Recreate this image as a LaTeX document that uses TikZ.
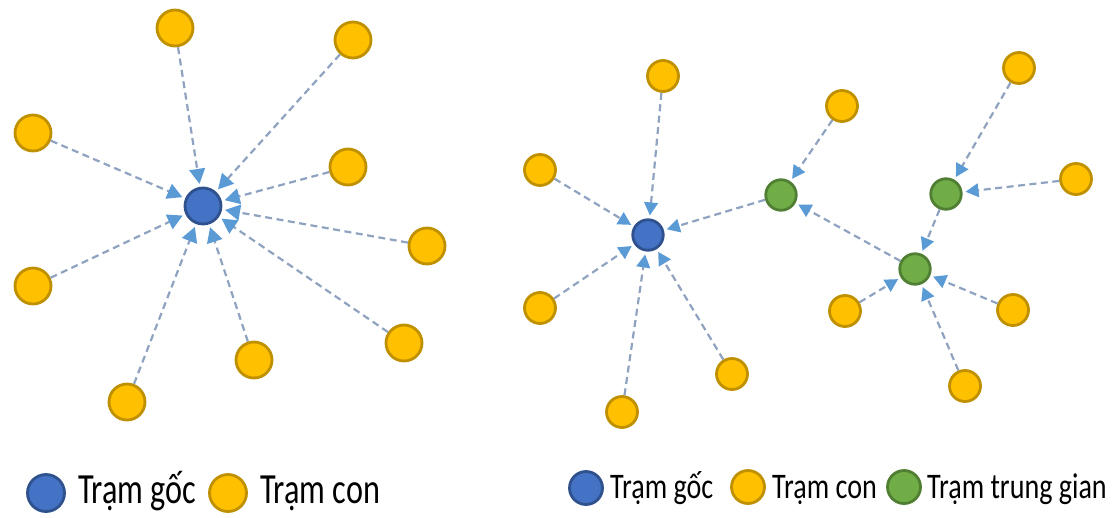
\documentclass[tikz,border=0pt]{standalone}
\usepackage{fontspec}
\setmainfont{Carlito}
\usetikzlibrary{arrows.meta}
\definecolor{subfill}{HTML}{FFC000}
\definecolor{subline}{HTML}{BF9000}
\definecolor{rootfill}{HTML}{4472C4}
\definecolor{rootline}{HTML}{2F528F}
\definecolor{midfill}{HTML}{70AD47}
\definecolor{midline}{HTML}{507E32}
\definecolor{linkgray}{HTML}{8FA2BF}
\definecolor{tipblue}{HTML}{5B9BD5}
\begin{document}
\begin{tikzpicture}[x=1pt,y=-1pt,
  station/.style={circle, inner sep=0pt, line width=2.8pt},
  sub/.style={station, fill=subfill, draw=subline, minimum size=#1},
  root/.style={station, fill=rootfill, draw=rootline, minimum size=#1},
  relay/.style={station, fill=midfill, draw=midline, minimum size=#1},
  link/.style={draw=linkgray, line width=2.2pt, dash pattern=on 7pt off 4.5pt,
    shorten >=3pt, -{Triangle[length=#1,width=1.05*#1,color=tipblue]}},
  link/.default=13pt,
  legendbig/.style={anchor=base west, inner sep=0pt,
    font=\fontsize{43}{50}\selectfont},
  legendsmall/.style={anchor=base west, inner sep=0pt,
    font=\fontsize{36}{42}\selectfont}
]
\useasboundingbox (0,0) rectangle (1117,517);

% ---- star network ----
\node[root=36pt] (L0) at (203,206) {};
\node[sub=36pt] (L1) at (175,28) {};
\node[sub=36pt] (L2) at (353,40) {};
\node[sub=36pt] (L3) at (33,133) {};
\node[sub=36pt] (L4) at (348,167) {};
\node[sub=36pt] (L5) at (427,246) {};
\node[sub=36pt] (L6) at (33,286) {};
\node[sub=36pt] (L7) at (404,343) {};
\node[sub=36pt] (L8) at (254,360) {};
\node[sub=36pt] (L9) at (127,402) {};
\foreach \n in {1,...,9}
  \draw[link=15pt] (L\n) -- (L0);

% ---- tree network with relay stations ----
\node[root=30.5pt] (R0) at (648,235) {};
\node[relay=30.5pt] (G1) at (781,195) {};
\node[relay=30.5pt] (G2) at (946,194) {};
\node[relay=30.5pt] (G3) at (915,269) {};
\node[sub=31pt] (S1) at (663,76) {};
\node[sub=31pt] (S2) at (540,170) {};
\node[sub=31pt] (S3) at (540,308) {};
\node[sub=31pt] (S4) at (622,412) {};
\node[sub=31pt] (S5) at (732,374) {};
\node[sub=31pt] (S6) at (842,106) {};
\node[sub=31pt] (S7) at (1019,68) {};
\node[sub=31pt] (S8) at (1076,179) {};
\node[sub=31pt] (S9) at (845,311) {};
\node[sub=31pt] (S10) at (1013,310) {};
\node[sub=31pt] (S11) at (965,386) {};

\draw[link] (S1) -- (R0);
\draw[link] (S2) -- (R0);
\draw[link] (S3) -- (R0);
\draw[link] (S4) -- (R0);
\draw[link] (S5) -- (R0);
\draw[link] (G1) -- (R0);
\draw[link] (S6) -- (G1);
\draw[link] (G3) -- (G1);
\draw[link] (S7) -- (G2);
\draw[link] (S8) -- (G2);
\draw[link] (G2) -- (G3);
\draw[link] (S9) -- (G3);
\draw[link] (S10) -- (G3);
\draw[link] (S11) -- (G3);

% ---- legends ----
\node[root=37pt] (kA1) at (46,493) {};
\node[legendbig] (tA1) at (78,503) {\scalebox{0.75}[1]{Trạm gốc}};
\node[sub=37pt] (kA2) at (228,493) {};
\node[legendbig] (tA2) at (260,503) {\scalebox{0.75}[1]{Trạm con}};

\node[root=33pt] (kB1) at (586,488) {};
\node[legendsmall] (tB1) at (610,498) {\scalebox{0.78}[1]{Trạm gốc}};
\node[sub=33pt] (kB2) at (748,487) {};
\node[legendsmall] (tB2) at (772,498) {\scalebox{0.78}[1]{Trạm con}};
\node[relay=33pt] (kB3) at (904,487) {};
\node[legendsmall] (tB3) at (927,498) {\scalebox{0.78}[1]{Trạm trung gian}};
\end{tikzpicture}
\end{document}
